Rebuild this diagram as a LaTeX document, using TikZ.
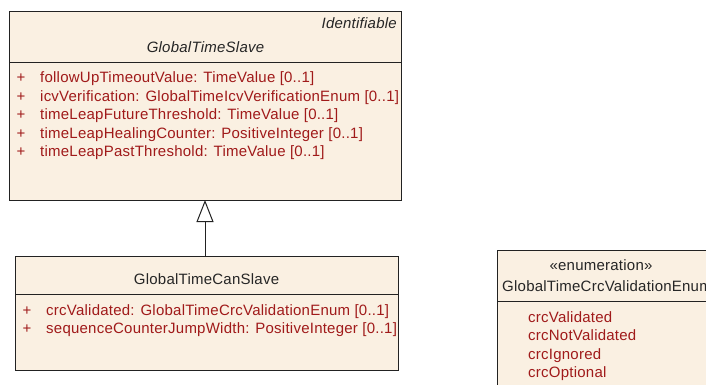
\documentclass[tikz,border=0pt]{standalone}
\usepackage{fontspec}
\setmainfont{Liberation Sans}
\newfontfamily\umlfont[LetterSpace=1.6]{Liberation Sans}
\usetikzlibrary{arrows.meta}
\definecolor{boxfill}{HTML}{FAF0E2}
\definecolor{attrred}{HTML}{A01A1A}
\definecolor{edge}{HTML}{222222}
\tikzset{
  umlbox/.style={draw=edge, fill=boxfill, line width=1pt},
  divider/.style={draw=edge, line width=1pt},
  title/.style={inner sep=0pt, font=\umlfont\fontsize{15}{17}\selectfont, text=black!85},
  attr/.style={inner sep=0pt, anchor=base west, font=\umlfont\fontsize{15}{17}\selectfont, text=attrred},
  inherit/.style={draw=edge, line width=1pt, -{Triangle[open, length=22pt, width=17pt, fill=white]}}
}
\begin{document}
\begin{tikzpicture}[x=1pt, y=-1pt]
\useasboundingbox (0,0) rectangle (706,385);
\clip (0,0) rectangle (706,385);
% top class
\path[umlbox] (9,11.5) rectangle (401.5,200);
\draw[divider] (9,62.5) -- (401.5,62.5);
\node[title, anchor=base east, font=\umlfont\fontsize{15}{17}\selectfont\itshape] (ident) at (397,29) {Identifiable};
\node[title, anchor=base, font=\umlfont\fontsize{15}{17}\selectfont\itshape] (gts) at (205.5,52.5) {GlobalTimeSlave};
\node[attr] (p1) at (16.5,83) {+};
\node[attr] (a1) at (40,83) {followUpTimeoutValue: TimeValue [0..1]};
\node[attr] (p2) at (16.5,101.3) {+};
\node[attr] (a2) at (40,101.3) {icvVerification: GlobalTimeIcvVerificationEnum [0..1]};
\node[attr] (p3) at (16.5,119.7) {+};
\node[attr] (a3) at (40,119.7) {timeLeapFutureThreshold: TimeValue [0..1]};
\node[attr] (p4) at (16.5,138) {+};
\node[attr] (a4) at (40,138) {timeLeapHealingCounter: PositiveInteger [0..1]};
\node[attr] (p5) at (16.5,156.3) {+};
\node[attr] (a5) at (40,156.3) {timeLeapPastThreshold: TimeValue [0..1]};
\coordinate (topbot) at (205,200);
% bottom class
\path[umlbox] (15,256) rectangle (398,370);
\draw[divider] (15,294) -- (398,294);
\node[title, anchor=base] (gtcs) at (206.5,284.5) {GlobalTimeCanSlave};
\node[attr] (q1) at (22.5,315.5) {+};
\node[attr] (b1) at (46,315.5) {crcValidated: GlobalTimeCrcValidationEnum [0..1]};
\node[attr] (q2) at (22.5,333.5) {+};
\node[attr] (b2) at (46,333.5) {sequenceCounterJumpWidth: PositiveInteger [0..1]};
\coordinate (bottop) at (205,256);
\draw[inherit] (bottop) -- (topbot);
% enum
\path[umlbox] (497,250) rectangle (720,400);
\draw[divider] (497,301.5) -- (720,301.5);
\node[title, anchor=base] (st) at (601,270) {«enumeration»};
\node[title, anchor=base west] (en) at (502,291) {GlobalTimeCrcValidationEnum};
\node[attr] (e1) at (528,322.5) {crcValidated};
\node[attr] (e2) at (528,340.5) {crcNotValidated};
\node[attr] (e3) at (528,359) {crcIgnored};
\node[attr] (e4) at (528,377) {crcOptional};
\end{tikzpicture}
\end{document}
